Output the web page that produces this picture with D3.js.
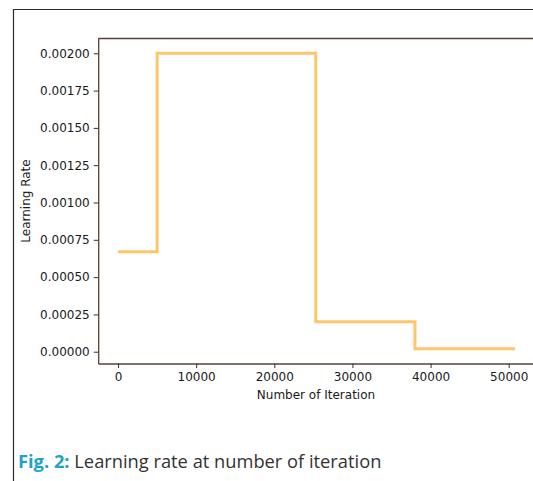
<!DOCTYPE html>
<html><head><meta charset="utf-8">
<script src="https://cdn.jsdelivr.net/npm/d3@7"></script>
<style>
html,body{margin:0;padding:0;background:#fff;}
svg{display:block;}
</style></head>
<body>
<svg id="chart" width="533" height="481"></svg>
<script>
// Data: step schedule (iteration, learning rate)
const iterations = [0, 5000, 5000, 25300, 25300, 38000, 38000, 50800];
const learningRates = [0.00067, 0.00067, 0.002, 0.002, 0.0002, 0.0002, 0.00002, 0.00002];
const xTicks = [0, 10000, 20000, 30000, 40000, 50000];
const yTicks = [0, 0.00025, 0.0005, 0.00075, 0.001, 0.00125, 0.0015, 0.00175, 0.002];
const xTitle = "Number of Iteration";
const yTitle = "Learning Rate";
const captionLabel = "Fig. 2:";
const captionText = " Learning rate at number of iteration";

const svg = d3.select("#chart");
const data = iterations.map((d, i) => ({x: d, y: learningRates[i]}));

const x = d3.scaleLinear().domain([-2540, 53340]).range([98.2, 534.8]);
const y = d3.scaleLinear().domain([-0.000079, 0.002099]).range([363.5, 38.5]);

const spine = "#5a3f3a";
const font = "'DejaVu Sans', sans-serif";

// outer frame
svg.append("path").attr("d", "M13.5,481 L13.5,9.5 L533,9.5")
  .attr("fill", "none").attr("stroke", "#2a2a2a").attr("stroke-width", 1.2);

// data line
svg.append("path").datum(data)
  .attr("fill", "none").attr("stroke", "#ffc56a").attr("stroke-width", 3)
  .attr("stroke-linejoin", "miter")
  .attr("d", d3.line().x(d => x(d.x)).y(d => y(d.y)));

// axes
const xAxis = svg.append("g").attr("transform", "translate(0,363.5)")
  .call(d3.axisBottom(x).tickValues(xTicks).tickFormat(d3.format("d")).tickSize(4.5).tickPadding(4).tickSizeOuter(0));
const yAxis = svg.append("g").attr("transform", "translate(98.2,0)")
  .call(d3.axisLeft(y).tickValues(yTicks).tickFormat(d3.format(".5f")).tickSize(4.5).tickPadding(4).tickSizeOuter(0));

[xAxis, yAxis].forEach(g => {
  g.select(".domain").attr("stroke", spine).attr("stroke-width", 1.3);
  g.selectAll(".tick line").attr("stroke", "#333").attr("stroke-width", 1);
  g.selectAll(".tick text").attr("fill", "#1a1a1a").style("font-family", font).style("font-size", "12px");
});

// top spine
svg.append("line").attr("x1", 98.2).attr("x2", 533).attr("y1", 38.5).attr("y2", 38.5)
  .attr("stroke", spine).attr("stroke-width", 1.3);

// titles
svg.append("text").attr("x", 316).attr("y", 398.5).attr("text-anchor", "middle")
  .style("font-family", font).style("font-size", "12px").attr("fill", "#1a1a1a").text(xTitle);
svg.append("text").attr("transform", "translate(30,201) rotate(-90)").attr("text-anchor", "middle")
  .style("font-family", font).style("font-size", "12px").attr("fill", "#1a1a1a").text(yTitle);

// caption
const cap = svg.append("text").attr("x", 18).attr("y", 468)
  .style("font-family", "'Open Sans', sans-serif").style("font-size", "18.3px");
cap.append("tspan").attr("fill", "#1ea3c9").style("font-weight", "bold").text(captionLabel);
cap.append("tspan").attr("fill", "#333").text(captionText);
</script>
</body></html>
